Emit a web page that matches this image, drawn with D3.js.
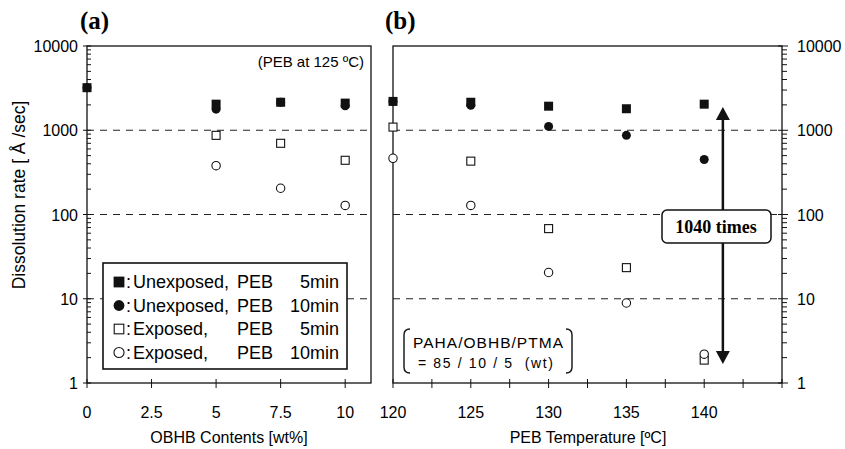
<!DOCTYPE html>
<html><head><meta charset="utf-8">
<script src="https://cdn.jsdelivr.net/npm/d3@7"></script>
<style>body{margin:0;background:#fff}svg{display:block}</style>
</head><body><svg id="c" width="845" height="449" font-family="Liberation Sans, Arial, sans-serif"></svg>
<script>
// Panel (a): OBHB contents (wt%)
const obhb = [0, 5, 7.5, 10];
const aUnexp5 = [3200, 2040, 2150, 2100];
const aUnexp10 = [3200, 1780, 2150, 1950];
const aExp5 = [null, 870, 700, 440];
const aExp10 = [null, 380, 205, 128];
// Panel (b): PEB temperature
const temps = [120, 125, 130, 135, 140];
const bUnexp5 = [2200, 2150, 1930, 1800, 2040];
const bUnexp10 = [2200, 1980, 1110, 870, 450];
const bExp5 = [1090, 430, 68, 23.4, 1.87];
const bExp10 = [465, 128, 20.5, 8.9, 2.2];
const aTicks = [0, 2.5, 5, 7.5, 10];
const aTickLabels = ["0", "2.5", "5", "7.5", "10"];
const bTicks = [120, 125, 130, 135, 140];
const yTicks = [1, 10, 100, 1000, 10000];
const gridVals = [10, 100, 1000];
const legendLabels = [
  ["Unexposed,", "PEB", "5min"],
  ["Unexposed,", "PEB", "10min"],
  ["Exposed,", "PEB", "5min"],
  ["Exposed,", "PEB", "10min"]
];

const SERIF = "Liberation Serif, Times New Roman, serif";
const svg = d3.select("#c");
const yTop = 46, yBot = 383;
const y = d3.scaleLog().domain([1, 10000]).range([yBot, yTop]);
const xa = d3.scaleLinear().domain([0, 11]).range([87, 371]);
const xb = d3.scaleLinear().domain([120, 145]).range([393, 782]);

function marker(g, type, cx, cy, s) {
  s = s || 1;
  if (type === "fs") g.append("rect").attr("x", cx-4.5*s).attr("y", cy-4.5*s).attr("width", 9*s).attr("height", 9*s).attr("fill", "#111");
  else if (type === "fc") g.append("circle").attr("cx", cx).attr("cy", cy).attr("r", 4.5*s).attr("fill", "#111");
  else if (type === "os") g.append("rect").attr("x", cx-4*s).attr("y", cy-4*s).attr("width", 8*s).attr("height", 8*s).attr("fill", "#fff").attr("stroke", "#111").attr("stroke-width", 1.1);
  else g.append("circle").attr("cx", cx).attr("cy", cy).attr("r", 4.2*s).attr("fill", "#fff").attr("stroke", "#111").attr("stroke-width", 1.1);
}

function panel(x, xs, series, ticks, tickLabels, minorStep) {
  const g = svg.append("g");
  const [x0, x1] = x.range();
  gridVals.forEach(v => g.append("line").attr("x1", x0).attr("x2", x1).attr("y1", y(v)).attr("y2", y(v))
    .attr("stroke", "#222").attr("stroke-width", 1).attr("stroke-dasharray", "7,6"));
  g.append("rect").attr("x", x0).attr("y", yTop).attr("width", x1-x0).attr("height", yBot-yTop)
    .attr("fill", "none").attr("stroke", "#111").attr("stroke-width", 1.3);
  const d = x.domain();
  for (let v = d[0]; v <= d[1] + 1e-9; v += minorStep) {
    g.append("line").attr("x1", x(v)).attr("x2", x(v)).attr("y1", yBot - 4).attr("y2", yBot + 5).attr("stroke", "#111");
  }
  ticks.forEach((t, i) => g.append("text").attr("x", x(t)).attr("y", 418).attr("text-anchor", "middle")
    .attr("font-size", 16).text(tickLabels[i]));
  const types = ["os", "oc", "fc", "fs"];
  const order = [series[2], series[3], series[1], series[0]];
  order.forEach((s, k) => s.forEach((v, i) => { if (v != null) marker(g, types[k], x(xs[i]), y(v)); }));
  return g;
}

panel(xa, obhb, [aUnexp5, aUnexp10, aExp5, aExp10], aTicks, aTickLabels, 2.5);
panel(xb, temps, [bUnexp5, bUnexp10, bExp5, bExp10], bTicks, bTicks.map(String), 2.5);

const minor = [];
for (let e = 0; e < 4; e++) for (let m = 2; m <= 9; m++) minor.push(m * Math.pow(10, e));
const ax = svg.append("g");
minor.forEach(v => {
  ax.append("line").attr("x1", 87).attr("x2", 91).attr("y1", y(v)).attr("y2", y(v)).attr("stroke", "#111");
  ax.append("line").attr("x1", 782).attr("x2", 787).attr("y1", y(v)).attr("y2", y(v)).attr("stroke", "#111");
});
yTicks.forEach(v => {
  ax.append("line").attr("x1", 83).attr("x2", 91).attr("y1", y(v)).attr("y2", y(v)).attr("stroke", "#111");
  ax.append("line").attr("x1", 778).attr("x2", 788).attr("y1", y(v)).attr("y2", y(v)).attr("stroke", "#111");
  ax.append("text").attr("x", 78).attr("y", y(v) + 6).attr("text-anchor", "end").attr("font-size", 16).text(v);
  ax.append("text").attr("x", 797).attr("y", y(v) + 6).attr("text-anchor", "start").attr("font-size", 16).text(v);
});

svg.append("text").attr("transform", "translate(25,195) rotate(-90)").attr("text-anchor", "middle")
  .attr("font-size", 17.5).text("Dissolution rate [ Å /sec]");
svg.append("text").attr("x", 229).attr("y", 443).attr("text-anchor", "middle").attr("font-size", 16).text("OBHB Contents [wt%]");
svg.append("text").attr("x", 588).attr("y", 443).attr("text-anchor", "middle").attr("font-size", 16).text("PEB Temperature [ºC]");

svg.append("text").attr("x", 80).attr("y", 29).style("font-family", SERIF)
  .attr("font-weight", "bold").attr("font-size", 25).text("(a)");
svg.append("text").attr("x", 385).attr("y", 29).style("font-family", SERIF)
  .attr("font-weight", "bold").attr("font-size", 25).text("(b)");

svg.append("text").attr("x", 364).attr("y", 67).attr("text-anchor", "end").attr("font-size", 15).text("(PEB at 125 ºC)");

const lg = svg.append("g");
lg.append("rect").attr("x", 103).attr("y", 263).attr("width", 244).attr("height", 106)
  .attr("fill", "#fff").attr("stroke", "#111").attr("stroke-width", 1.6);
const ltypes = ["fs", "fc", "os", "oc"];
legendLabels.forEach((l, i) => {
  const base = 288 + i * 23.5;
  marker(lg, ltypes[i], 119, base - 6, 1.2);
  lg.append("text").attr("x", 126).attr("y", base).attr("font-size", 18).text(":");
  lg.append("text").attr("x", 133).attr("y", base).attr("font-size", 18).text(l[0]);
  lg.append("text").attr("x", 237).attr("y", base).attr("font-size", 18).text(l[1]);
  lg.append("text").attr("x", 339).attr("y", base).attr("text-anchor", "end").attr("font-size", 18).text(l[2]);
});

const cg = svg.append("g");
cg.append("path").attr("d", "M410,329 Q404,329 404,335 L404,367 Q404,373 410,373").attr("fill", "none").attr("stroke", "#111").attr("stroke-width", 1.4);
cg.append("path").attr("d", "M566,329 Q572,329 572,335 L572,367 Q572,373 566,373").attr("fill", "none").attr("stroke", "#111").attr("stroke-width", 1.4);
cg.append("text").attr("x", 413).attr("y", 348).attr("font-size", 15.5).attr("textLength", 150).text("PAHA/OBHB/PTMA");
cg.append("text").attr("x", 418).attr("y", 368).attr("font-size", 14).attr("textLength", 135).attr("xml:space", "preserve").text("= 85 / 10 / 5  (wt)");

const arX = xb(141.2);
const ag = svg.append("g");
ag.append("line").attr("x1", arX).attr("x2", arX).attr("y1", 118).attr("y2", 352).attr("stroke", "#111").attr("stroke-width", 2.5);
ag.append("path").attr("d", `M${arX},107 L${arX-7},120 L${arX+7},120 Z`).attr("fill", "#111");
ag.append("path").attr("d", `M${arX},364 L${arX-7},351 L${arX+7},351 Z`).attr("fill", "#111");
ag.append("rect").attr("x", 662).attr("y", 210).attr("width", 109).attr("height", 33).attr("rx", 5)
  .attr("fill", "#fff").attr("stroke", "#111").attr("stroke-width", 1.5);
ag.append("text").attr("x", 716).attr("y", 233).attr("text-anchor", "middle").style("font-family", SERIF)
  .attr("font-weight", "bold").attr("font-size", 18).text("1040 times");
</script></body></html>
